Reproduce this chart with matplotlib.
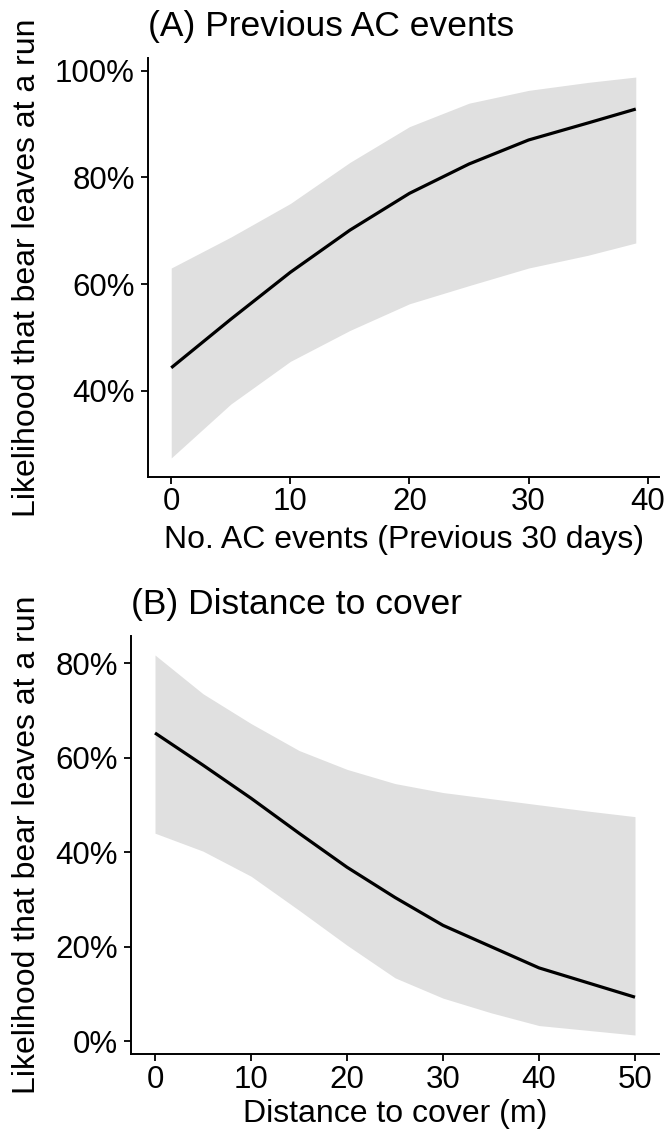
import matplotlib
matplotlib.use("Agg")
from matplotlib import pyplot as plt, ticker as mticker

# (A) previous AC events (%)
ac_x = [0, 5, 10, 15, 20, 25, 30, 35, 39]
ac_fit = [44.3, 53.4, 62.2, 70.1, 77.0, 82.5, 87.0, 90.2, 92.8]
ac_upper = [63.0, 68.8, 75.1, 82.8, 89.5, 93.9, 96.3, 97.8, 98.8]
ac_lower = [27.4, 37.5, 45.5, 51.3, 56.3, 59.7, 63.0, 65.4, 67.7]

# (B) distance to cover (m)
dist_x = [0, 5, 10, 15, 20, 25, 30, 35, 40, 45, 50]
dist_fit = [65.2, 58.4, 51.4, 44.0, 36.8, 30.4, 24.5, 20.0, 15.5, 12.4, 9.3]
dist_upper = [81.7, 73.5, 67.2, 61.5, 57.5, 54.5, 52.6, 51.3, 50.0, 48.7, 47.5]
dist_lower = [44.0, 40.2, 34.9, 27.7, 20.3, 13.4, 9.1, 6.0, 3.3, 2.3, 1.3]

ylab = "Likelihood that bear leaves at a run"
band_col = "#e0e0e0"

plt.rcParams["font.family"] = ["Liberation Sans", "DejaVu Sans"]

W, H = 665, 1133
fig = plt.figure(figsize=(W / 100, H / 100), dpi=100)


def px_axes(left, top, right, bottom):
    return fig.add_axes([left / W, 1 - bottom / H, (right - left) / W, (bottom - top) / H])


def style(ax, x, fit, lo, hi, title, xlabel, xstep, ystep, ylab_x, xpad, lpad):
    ax.fill_between(x, lo, hi, color=band_col, linewidth=0)
    ax.plot(x, fit, color="black", lw=2.3, solid_capstyle="butt")
    ax.margins(x=0.05, y=0.05)
    ax.xaxis.set_major_locator(mticker.MultipleLocator(xstep))
    ax.yaxis.set_major_locator(mticker.MultipleLocator(ystep))
    ax.yaxis.set_major_formatter(mticker.PercentFormatter(xmax=100, decimals=0))
    for s in ["top", "right"]:
        ax.spines[s].set_visible(False)
    for s in ["left", "bottom"]:
        ax.spines[s].set_linewidth(1.4)
    ax.tick_params(width=1.3, length=5, labelsize=22.5, colors="black")
    ax.tick_params(axis="x", pad=xpad)
    ax.tick_params(axis="y", pad=4.5)
    ax.set_title(title, loc="left", fontsize=25.5, pad=16)
    ax.set_xlabel(xlabel, fontsize=23, labelpad=lpad)
    ax.set_ylabel(ylab, fontsize=23, va="center")
    ax.yaxis.set_label_coords(ylab_x, 0.5)


ax1 = px_axes(148, 58, 659, 477)
style(ax1, ac_x, ac_fit, ac_lower, ac_upper, "(A) Previous AC events",
      "No. AC events (Previous 30 days)", 10, 20, (27 - 148) / 511, 2.0, 6)

ax2 = px_axes(131, 636, 659, 1054)
style(ax2, dist_x, dist_fit, dist_lower, dist_upper, "(B) Distance to cover",
      "Distance to cover (m)", 10, 20, (27 - 131) / 528, 3.0, 3)

fig.savefig("out.png", dpi=100)
